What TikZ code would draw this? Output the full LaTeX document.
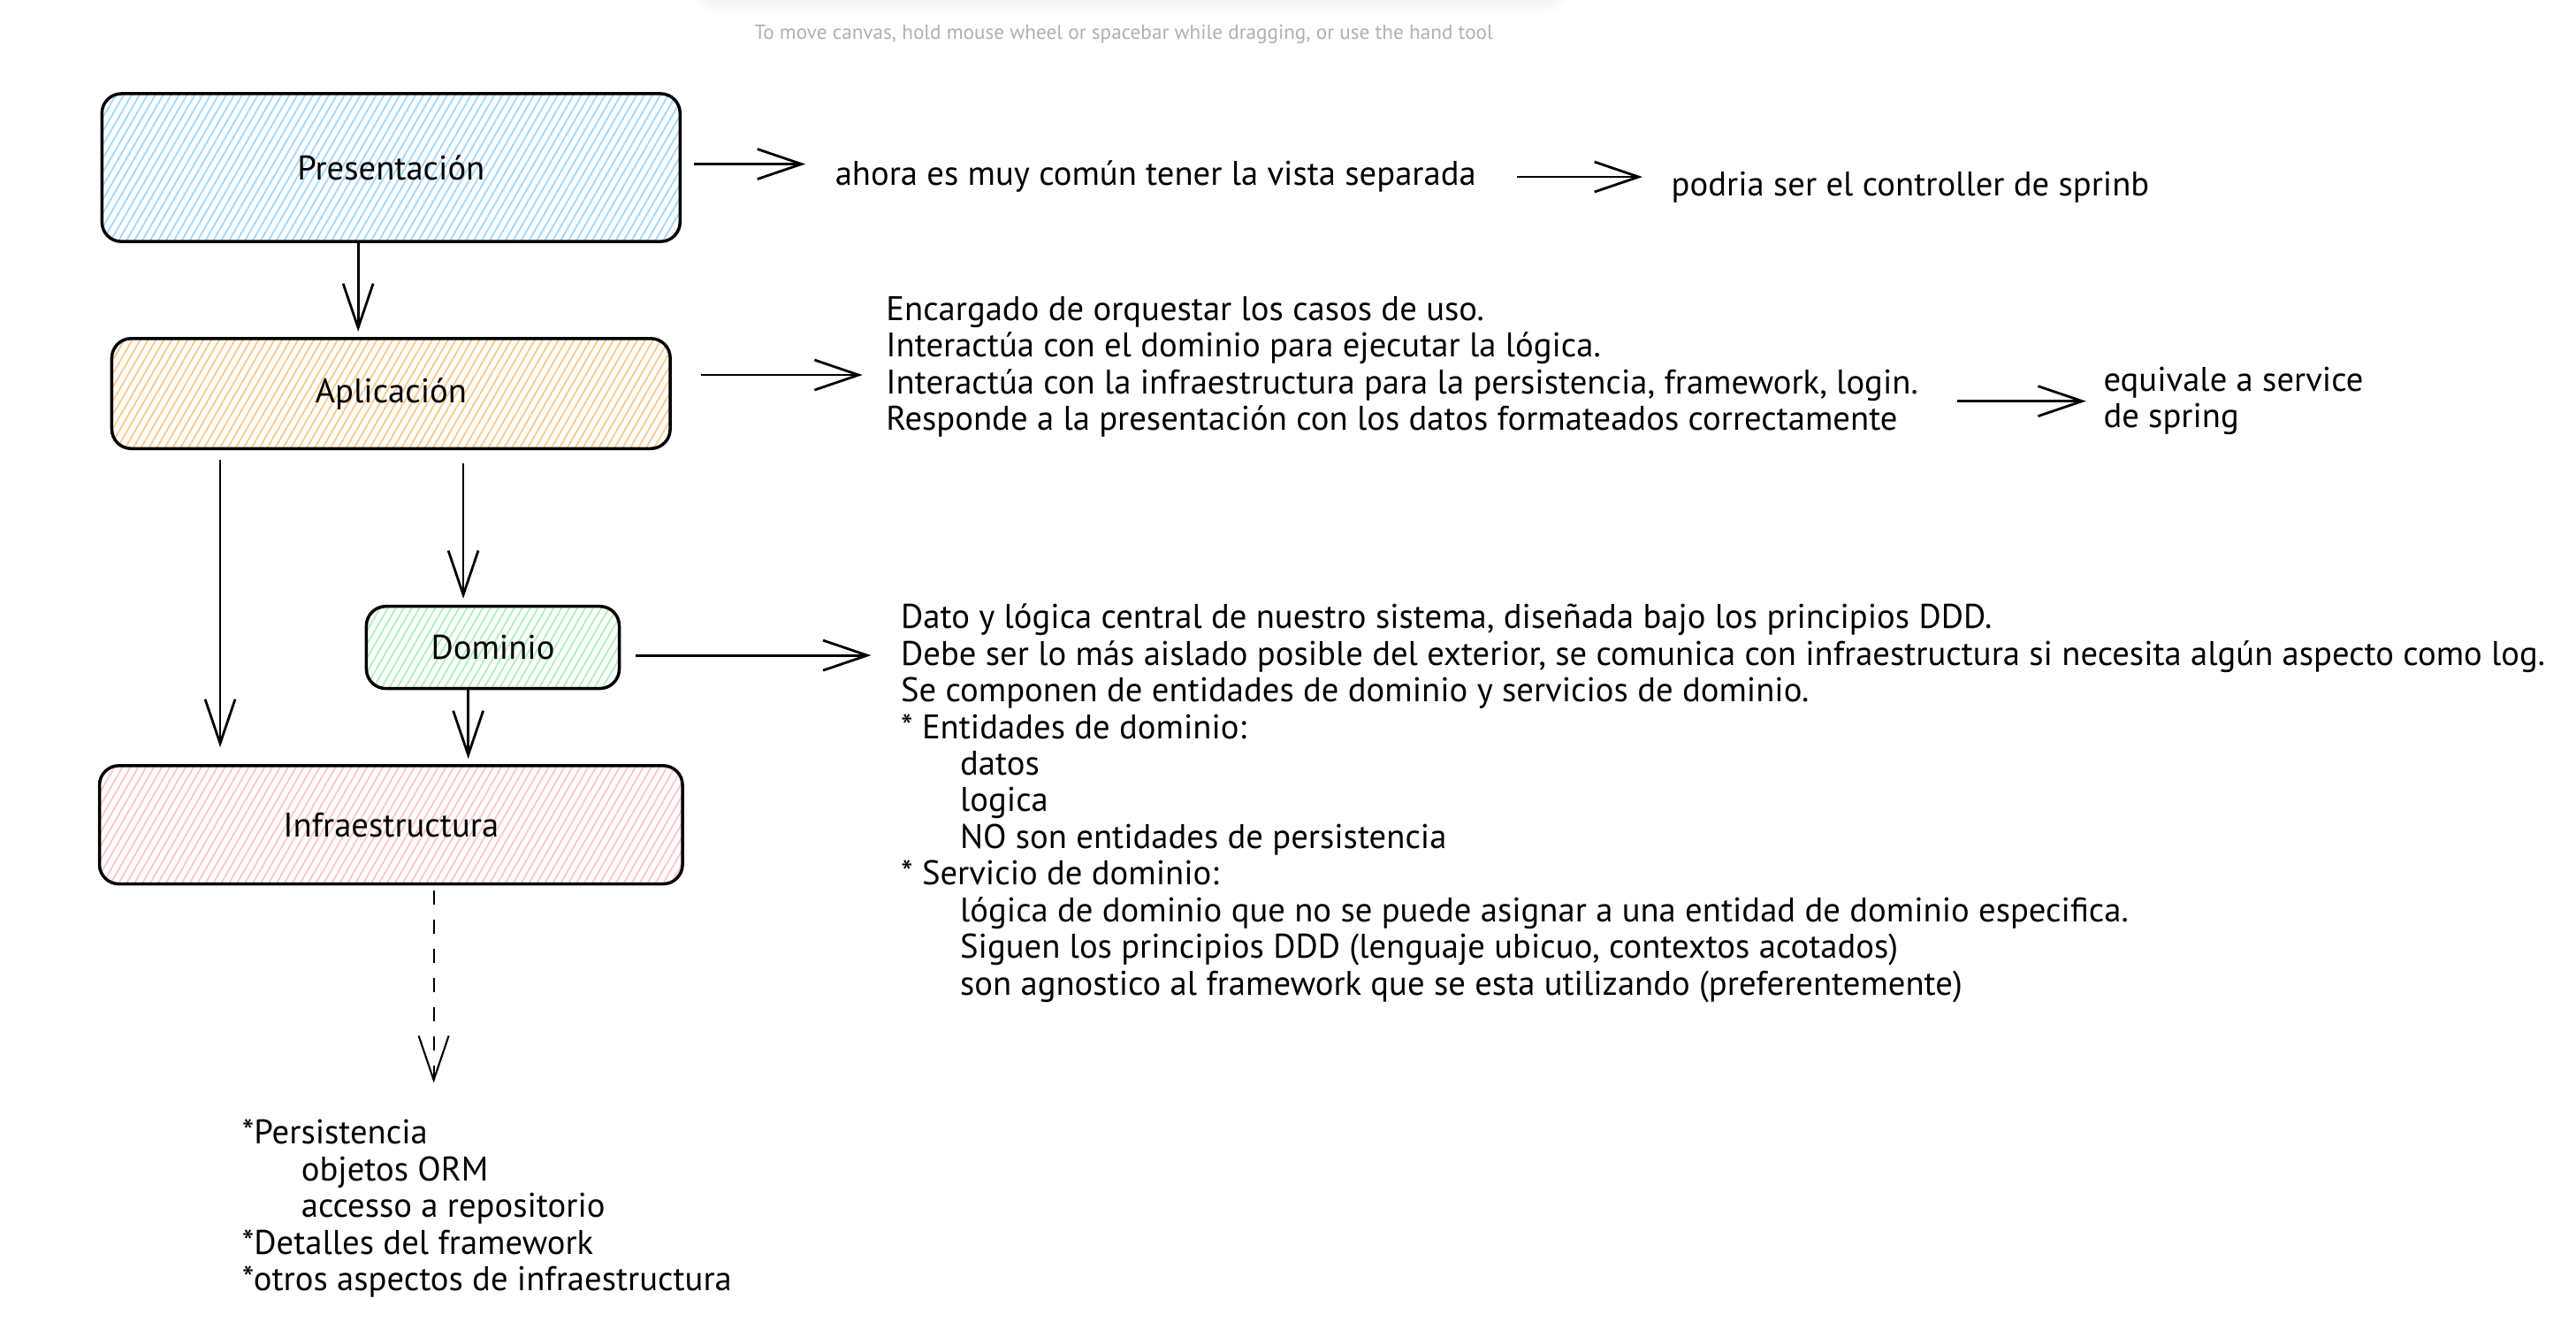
\documentclass[tikz,border=0pt]{standalone}
\usepackage{fontspec}
\setmainfont{PT Sans}
\usepackage{tikz}
\usetikzlibrary{arrows.meta,positioning,patterns.meta}
\usepackage{xcolor}

\definecolor{hintgray}{HTML}{B0B0B0}
\definecolor{hatchblue}{HTML}{A5D8FF}
\definecolor{hatchorange}{HTML}{FFCB8E}
\definecolor{hatchgreen}{HTML}{B2F2BB}
\definecolor{hatchred}{HTML}{FFC9C9}

\newcommand{\notefont}{\fontsize{11}{11.8}\selectfont}
\newcommand{\ind}{\hspace*{0.67cm}}

\tikzset{
  layer/.style={draw, line width=1pt, rounded corners=0.22cm, inner sep=0pt,
    font=\notefont},
  hatch/.style={pattern={Lines[angle=60,distance=2.2pt,line width=0.55pt]},
    pattern color=#1},
  note/.style={inner sep=0pt, align=left, font=\notefont},
  arr/.style={-{Straight Barb[length=0.5cm,width=0.34cm]}, line width=0.8pt},
}

\begin{document}
\begin{tikzpicture}[x=0.01858cm,y=-0.01858cm,on grid]
  \useasboundingbox (0,0) rectangle (1568,804);

  % toolbar shadow and hint
  \foreach \s in {0,2,4,6,8}
    \fill[black,opacity=0.012,rounded corners=8] ({428-\s},-30) rectangle ({948+\s},{\s});
  \node[font=\fontsize{6.6}{7.5}\selectfont, text=hintgray] (hint) at (684,21)
    {To move canvas, hold mouse wheel or spacebar while dragging, or use the hand tool};

  % layers
  \node[layer, hatch=hatchblue, minimum width=6.54cm, minimum height=1.672cm]
    (pres) at (238,102) {Presentación};
  \node[layer, hatch=hatchorange, minimum width=6.317cm, minimum height=1.245cm]
    (apl) [below=2.555cm of pres] {Aplicación};
  \node[layer, hatch=hatchgreen, minimum width=2.861cm, minimum height=0.929cm]
    (dom) [below right=2.871cm and 1.152cm of apl] {Dominio};
  \node[layer, hatch=hatchred, minimum width=6.596cm, minimum height=1.338cm]
    (infra) [below=4.877cm of apl] {Infraestructura};

  % notes
  \node[note, anchor=base west] (vista) at (508,113)
    {ahora es muy común tener la vista separada};
  \node[note, anchor=base west] (ctrl) at (1017,119)
    {podria ser el controller de sprinb};
  \node[note, anchor=north west] (aplnote) at (539,180)
    {Encargado de orquestar los casos de uso.\\
     Interactúa con el dominio para ejecutar la lógica.\\
     Interactúa con la infraestructura para la persistencia, framework, login.\\
     Responde a la presentación con los datos formateados correctamente};
  \node[note, anchor=north west] (service) at (1280,223)
    {equivale a service\\de spring};
  \node[note, anchor=north west] (domnote) at (548,367)
    {Dato y lógica central de nuestro sistema, diseñada bajo los principios DDD.\\
     Debe ser lo más aislado posible del exterior, se comunica con infraestructura si necesita algún aspecto como log.\\
     Se componen de entidades de dominio y servicios de dominio.\\
     * Entidades de dominio:\\
     \ind datos\\
     \ind logica\\
     \ind NO son entidades de persistencia\\
     * Servicio de dominio:\\
     \ind lógica de dominio que no se puede asignar a una entidad de dominio especifica.\\
     \ind Siguen los principios DDD (lenguaje ubicuo, contextos acotados)\\
     \ind son agnostico al framework que se esta utilizando (preferentemente)};
  \node[note, anchor=north west] (inflist) at (147,681)
    {*Persistencia\\
     \ind objetos ORM\\
     \ind accesso a repositorio\\
     *Detalles del framework\\
     *otros aspectos de infraestructura};

  % columns of the vertical arrows
  \coordinate (cPA) at (218,0);
  \coordinate (cAI) at (134,0);
  \coordinate (cAD) at (282,0);
  \coordinate (cDI) at (285,0);
  \coordinate (cIL) at (264,0);

  % vertical arrows
  \draw[arr, shorten >=0.06cm] (pres.south -| cPA) -- (apl.north -| cPA);
  \draw[arr, shorten <=0.11cm, shorten >=0.19cm] (apl.south -| cAI) -- (infra.north -| cAI);
  \draw[arr, shorten <=0.15cm, shorten >=0.07cm] (apl.south -| cAD) -- (dom.north -| cAD);
  \draw[arr, shorten >=0.06cm] (dom.south -| cDI) -- (infra.north -| cDI);
  \draw[arr, dash pattern=on 0.16cm off 0.17cm, line width=0.6pt,
    shorten <=0.06cm, shorten >=0.41cm] (infra.south -| cIL) -- (inflist.north -| cIL);

  % horizontal arrows
  \draw[arr, shorten <=0.15cm, shorten >=0.33cm]
    ([yshift=0.04cm]pres.east) -- ([yshift=0.04cm]pres.east -| vista.west);
  \draw[arr, shorten <=0.46cm, shorten >=0.32cm] (vista.east) -- (vista.east -| ctrl.west);
  \draw[arr, shorten <=0.33cm, shorten >=0.26cm]
    ([yshift=0.21cm]apl.east) -- ([yshift=0.21cm]apl.east -| aplnote.west);
  \draw[arr, shorten <=0.43cm, shorten >=0.19cm]
    (aplnote.east |- service.west) -- (service.west);
  \draw[arr, shorten <=0.17cm, shorten >=0.33cm]
    ([yshift=-0.09cm]dom.east) -- ([yshift=-0.09cm]dom.east -| domnote.west);
\end{tikzpicture}
\end{document}
